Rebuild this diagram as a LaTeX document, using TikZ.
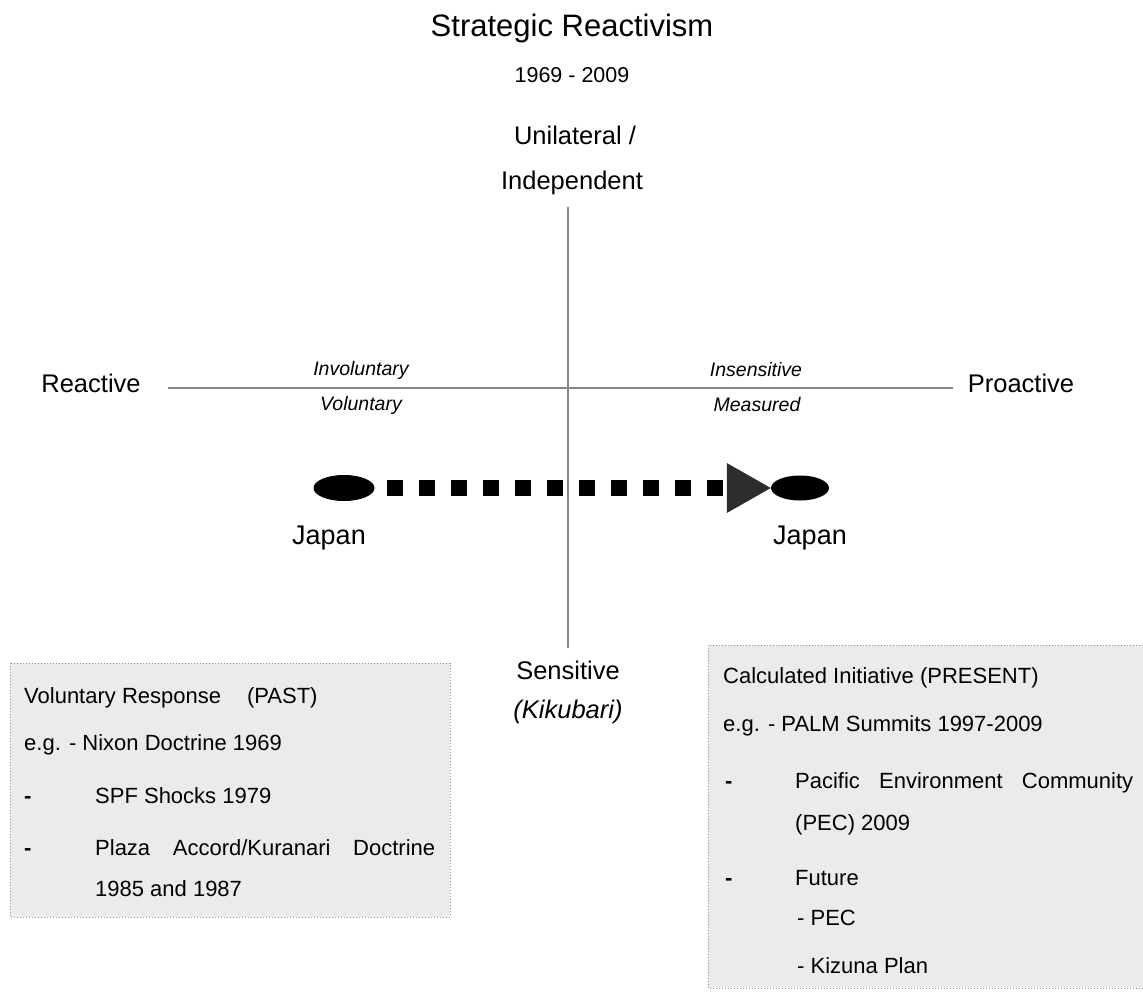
\documentclass[tikz,border=0pt]{standalone}
\usepackage{fontspec}
\setmainfont{Liberation Sans}
\usetikzlibrary{arrows.meta,positioning,shapes.geometric}
\definecolor{axisgray}{RGB}{135,135,135}
\definecolor{panelgray}{RGB}{235,235,235}
\definecolor{panelrule}{RGB}{150,150,150}
\definecolor{tipgray}{RGB}{45,45,45}

\begin{document}
\begin{tikzpicture}[
    x=1pt, y=-1pt,
    txt/.style={inner sep=0pt, text=black},
    ttl/.style={txt, font=\fontsize{31}{36}\selectfont},
    yrs/.style={txt, font=\fontsize{21.5}{26}\selectfont},
    pole/.style={txt, font=\fontsize{25.5}{30}\selectfont},
    qual/.style={txt, font=\fontsize{19.5}{23}\selectfont\itshape},
    actor/.style={txt, font=\fontsize{27}{32}\selectfont},
    item/.style={txt, anchor=base west, font=\fontsize{22}{26}\selectfont},
    dashmark/.style={item, font=\fontsize{22}{26}\selectfont\bfseries},
    axisline/.style={draw=axisgray, line width=2.5pt},
    blob/.style={ellipse, fill=black, inner sep=0pt},
    panelrule/.style={draw=panelrule, dotted, line width=1pt},
    move/.style={line width=16pt, dash pattern=on 16pt off 16pt,
        -{Triangle[length=44pt,width=50pt,line width=0pt,color=tipgray]}}
]
    \useasboundingbox (0,0) rectangle (1143,993);

    % panels
    \draw[panelrule, fill=panelgray] (10,663) rectangle (450,917);
    \fill[panelgray] (708,645) rectangle (1143,988);
    \draw[panelrule] (1143,645) -- (708,645) -- (708,988) -- (1143,988);

    % axes
    \coordinate (axN) at (568,207);
    \coordinate (axS) at (568,648);
    \coordinate (axW) at (168,388);
    \coordinate (axE) at (953,388);
    \draw[axisline] (axN) -- (axS);
    \draw[axisline] (axW) -- (axE);

    \node[ttl] (title) at (572,28) {Strategic Reactivism};
    \node[yrs] (period) at (572,75) {1969 - 2009};
    \node[pole] (unil) at (575,135) {Unilateral /};
    \node[pole] (indep) at (572,183) {Independent};
    \node[pole] (reac) at (91,383) {Reactive};
    \node[pole] (proac) at (1021,383) {Proactive};
    \node[pole] (sens) at (568,670) {Sensitive};
    \node[pole] (kiku) at (568,712) {\textit{(Kikubari)}};

    \node[qual] (invol) at (361,370) {Involuntary};
    \node[qual] (vol) at (361,405) {Voluntary};
    \node[qual] (insens) at (756,370) {Insensitive};
    \node[qual] (meas) at (757,405) {Measured};

    % Japan moves from left to right
    \node[blob, minimum width=61pt, minimum height=26pt] (japanold) at (344,488) {};
    \node[blob, minimum width=58pt, minimum height=25pt] (japannew) at (800,488) {};
    \draw[move, shorten <=12pt] (japanold.east) -- (japannew.west);
    \node[actor] (japanL) at (329,538) {Japan};
    \node[actor] (japanR) at (810,538) {Japan};

    % past
    \node[item] (pasthd) at (24,703) {Voluntary Response\hspace{26pt}(PAST)};
    \node[item] (pasteg) at (24,750) {e.g. - Nixon Doctrine 1969};
    \node[dashmark] (pastd1) at (24,803) {-};
    \node[item] (spf) at (95,803) {SPF Shocks 1979};
    \node[dashmark] (pastd2) at (24,855) {-};
    \node[item] (plaza) at (95,855) {\makebox[340pt][s]{Plaza Accord/Kuranari Doctrine}};
    \node[item] (plaza2) at (95,896) {1985 and 1987};

    % present
    \node[item] (preshd) at (723,683) {Calculated Initiative (PRESENT)};
    \node[item] (preseg) at (723,731) {e.g. - PALM Summits 1997-2009};
    \node[dashmark] (presd1) at (725,788) {-};
    \node[item] (pec) at (795,788) {\makebox[338pt][s]{Pacific Environment Community}};
    \node[item] (pec2) at (795,830) {(PEC) 2009};
    \node[dashmark] (presd2) at (725,885) {-};
    \node[item] (future) at (795,885) {Future};
    \node[item] (fpec) at (797,925) {- PEC};
    \node[item] (kizuna) at (797,973) {- Kizuna Plan};
\end{tikzpicture}
\end{document}
